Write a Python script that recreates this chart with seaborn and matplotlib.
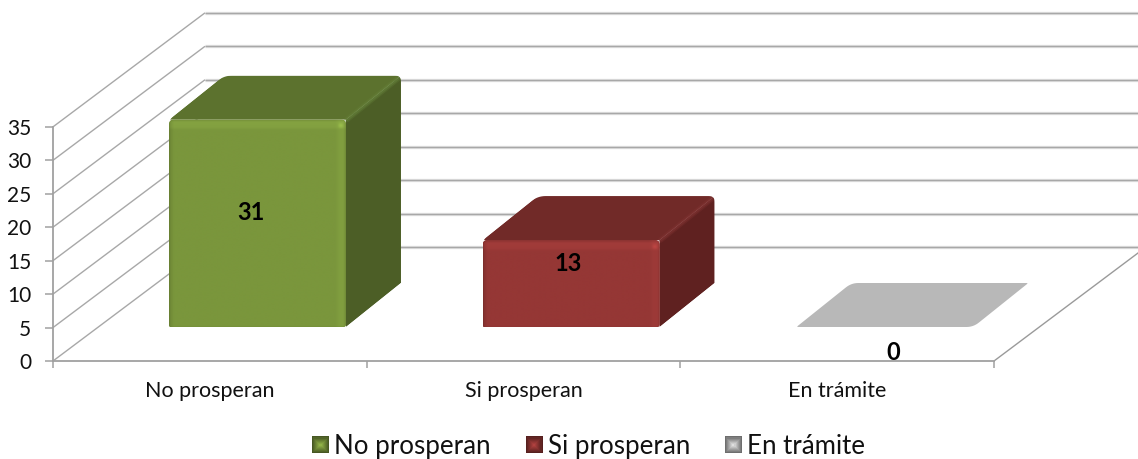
import numpy as np
import pandas as pd
import matplotlib
matplotlib.use("Agg")
import matplotlib.pyplot as plt
from matplotlib.collections import LineCollection
from matplotlib.colors import to_rgb
from matplotlib.legend_handler import HandlerBase
from matplotlib.patches import Patch, Polygon
import seaborn as sns

# Case outcomes
categories = ["No prosperan", "Si prosperan", "En trámite"]
values = [31, 13, 0]
y_ticks = [0, 5, 10, 15, 20, 25, 30, 35]

front_colors = ["#7A963C", "#953735", "#BDBDBD"]
top_colors = ["#5C722E", "#712A28", "#B8B8B8"]
side_colors = ["#4C5E26", "#5F2120", "#A6A6A6"]
ridge_colors = ["#66823A", "#823433", "#B8B8B8"]

# Plot scale in pixels
PX_CAT = 313.67
PX_UNIT = 6.69
X0_PX, Y0_PX = 53.0, 361.0
W, H = 1138, 459

sns.set_theme(style="white")
plt.rcParams["font.family"] = ["Lato", "DejaVu Sans"]

fig = plt.figure(figsize=(W / 100, H / 100), dpi=100)
ax = fig.add_axes([0, 0, 1, 1])


def px_dx(d):
    return d / PX_CAT


def px_dy(d):
    return d / PX_UNIT


# Oblique projection depth of the walls and of the bars
WALL_DX, WALL_DY = px_dx(152), px_dy(114)
BAR_SHIFT_X, BAR_SHIFT_Y = px_dx(47.7), px_dy(34)
BAR_DX, BAR_DY = px_dx(55), px_dy(44)

frame = pd.DataFrame({"estado": categories, "casos": values})
sns.barplot(
    data=frame, x="estado", y="casos", hue="estado", hue_order=categories,
    palette=front_colors, width=0.564, legend=False, ax=ax, saturation=1,
    linewidth=0, estimator="sum", errorbar=None,
)
ax.set_xlabel("")
ax.set_ylabel("")
ax.set_xlim(-0.5 - X0_PX / PX_CAT, -0.5 + (W - X0_PX) / PX_CAT)
ax.set_ylim((Y0_PX - H) / PX_UNIT, Y0_PX / PX_UNIT)

# Wall gridlines
top = y_ticks[-1]
xl, xr = -0.5, 2.5
back_l = xl + WALL_DX
back_r = xr + WALL_DX
left_wall = [[(xl, v), (back_l, v + WALL_DY)] for v in y_ticks]
back_wall = [[(back_l, v + WALL_DY), (back_r, v + WALL_DY)] for v in y_ticks]
grid = "#A8A8A8"
ax.add_collection(LineCollection(back_wall, colors="#E2E2E2", linewidths=2.4, zorder=1))
ax.add_collection(LineCollection(back_wall, colors=grid, linewidths=1.0, zorder=1.1))
ax.add_collection(LineCollection(left_wall, colors=grid, linewidths=1.0, zorder=1.1))
ax.add_collection(LineCollection([[(xr, 0), (back_r, WALL_DY)]], colors="#9A9A9A",
                                 linewidths=1.0, zorder=1.1))


def rounded(points, radius):
    """Round a polygon's corners; radius per corner is given in pixels."""
    pts = np.array([(x * PX_CAT, y * PX_UNIT) for x, y in points])
    out = []
    n = len(pts)
    for i in range(n):
        p, a, b = pts[i], pts[i - 1], pts[(i + 1) % n]
        r = radius[i]
        if r <= 0:
            out.append(p)
            continue
        u = (a - p) / np.linalg.norm(a - p)
        v = (b - p) / np.linalg.norm(b - p)
        for t in np.linspace(0, 1, 9):
            out.append((1 - t) ** 2 * (p + u * r) + 2 * t * (1 - t) * p + t ** 2 * (p + v * r))
    out = np.array(out)
    return out / [PX_CAT, PX_UNIT]


def bevel_image(wpx, hpx, rgb):
    """Shaded front face: dark rims, a lighter inner band and a corner glint."""
    ss = 2
    nx, ny = int(wpx * ss), int(hpx * ss)
    x = (np.arange(nx) + 0.5) / ss
    y = (np.arange(ny) + 0.5) / ss
    fx = np.ones(nx)
    fx *= np.interp(x, [0, 1.5, 5], [0.8, 0.92, 1.0])
    fx *= np.interp(x, [wpx - 11, wpx - 7, wpx - 3, wpx - 1, wpx], [1.0, 1.05, 1.05, 0.95, 0.84])
    fy = np.ones(ny)
    fy *= np.interp(y, [0, 1.5, 3, 8, 11], [0.92, 1.0, 1.08, 1.07, 1.0])
    fy *= np.interp(y, [hpx - 1.5, hpx], [1.0, 0.92])
    shade = np.outer(fy, fx)
    d = np.hypot(x[None, :] - (wpx - 5.5), y[:, None] - 6.5)
    shade = shade + 0.16 * np.clip(1 - d / 3.5, 0, 1)
    return np.clip(shade[..., None] * np.array(rgb), 0, 1)


bars = [p for p in ax.patches]
for i, (bar, value) in enumerate(zip(bars, values)):
    x0 = bar.get_x() + BAR_SHIFT_X
    width = bar.get_width()
    x1 = x0 + width
    y0 = BAR_SHIFT_Y
    y1 = y0 + value
    bar.set_x(x0)
    bar.set_y(y0)
    bar.set_zorder(3)

    top_face = [(x0, y1), (x1, y1), (x1 + BAR_DX, y1 + BAR_DY), (x0 + BAR_DX, y1 + BAR_DY)]
    if value == 0:
        # an empty bar leaves only a flat slab on the floor
        ax.add_patch(Polygon(rounded(top_face, [2, 7, 2, 7]), closed=True, fc=top_colors[i],
                             ec="none", zorder=2))
        continue

    # the top and side faces are trimmed to one rounded silhouette
    silhouette = Polygon(
        rounded([(x0, y0), (x1, y0), (x1 + BAR_DX, y0 + BAR_DY), (x1 + BAR_DX, y1 + BAR_DY),
                 (x0 + BAR_DX, y1 + BAR_DY), (x0, y1)], [0, 0, 0, 6, 8, 5]),
        closed=True, transform=ax.transData, fc="none", ec="none")
    ax.add_patch(silhouette)
    top_patch = Polygon(top_face, closed=True, fc=top_colors[i], ec="none", zorder=2)
    ax.add_patch(top_patch)
    top_patch.set_clip_path(silhouette)
    side = [(x1, y0), (x1 + BAR_DX, y0 + BAR_DY), (x1 + BAR_DX, y1 + BAR_DY), (x1, y1)]
    side_patch = Polygon(side, closed=True, fc=side_colors[i], ec="none", zorder=2.1)
    ax.add_patch(side_patch)
    side_patch.set_clip_path(silhouette)

    # soft ridge where the top meets the side
    ridge = [(x1 + px_dx(1), y1), (x1 + BAR_DX - px_dx(3), y1 + BAR_DY - px_dy(3))]
    for lw, alpha in [(4.0, 0.3), (2.2, 0.5)]:
        line, = ax.plot(*zip(*ridge), color=ridge_colors[i], lw=lw, alpha=alpha,
                        solid_capstyle="round", zorder=2.2)
        line.set_clip_path(silhouette)

    outline = Polygon(rounded([(x0, y0), (x1, y0), (x1, y1), (x0, y1)], [2, 3, 5, 5]),
                      closed=True, transform=ax.transData, fc="none", ec="none")
    ax.add_patch(outline)
    bar.set_clip_path(outline)
    wpx, hpx = width * PX_CAT, value * PX_UNIT
    img = ax.imshow(bevel_image(wpx, hpx, to_rgb(front_colors[i])),
                    extent=(x0, x1, y0, y1), origin="upper", aspect="auto",
                    interpolation="bilinear", zorder=3.1)
    img.set_clip_path(outline)

ax.set_xlim(-0.5 - X0_PX / PX_CAT, -0.5 + (W - X0_PX) / PX_CAT)
ax.set_ylim((Y0_PX - H) / PX_UNIT, Y0_PX / PX_UNIT)

# Value labels, nudged from each bar's front-face centre (pixels)
label_nudge = [(-6.5, 11), (-3.5, 20), (8.5, -25)]
for bar, value, (nx, ny) in zip(bars, values, label_nudge):
    ax.text(bar.get_x() + bar.get_width() / 2 + px_dx(nx),
            bar.get_y() + value / 2 + px_dy(ny),
            f"{value}", ha="center", va="center", fontsize=17, fontweight="bold",
            color="black", zorder=6)

# Axes
axis_color = "#A0A0A0"
for name in ("top", "right"):
    ax.spines[name].set_visible(False)
ax.spines["left"].set_position(("data", xl))
ax.spines["left"].set_bounds(0, top)
ax.spines["bottom"].set_position(("data", 0))
ax.spines["bottom"].set_bounds(xl, xr)
for name in ("left", "bottom"):
    ax.spines[name].set_color(axis_color)
    ax.spines[name].set_linewidth(1.3)
    ax.spines[name].set_zorder(1.5)

ax.set_yticks(y_ticks)
ax.set_xticks(range(len(categories)))
ax.set_xticklabels(categories)
ax.set_xticks(np.arange(xl, xr + 0.5), minor=True)
ax.tick_params(axis="y", which="major", left=True, length=5.8, width=1.1, color=axis_color,
               pad=10, labelsize=15, labelcolor="#111111")
ax.tick_params(axis="x", which="major", bottom=False, length=0, pad=14.5, labelsize=15.5,
               labelcolor="#111111")
ax.tick_params(axis="x", which="minor", bottom=True, length=5, width=1.1, color=axis_color)
ax.grid(False)
ax.patch.set_alpha(0)


class BevelSquare(HandlerBase):
    """Small legend key shaded from dark rims to a light centre."""

    def create_artists(self, legend, orig_handle, xdescent, ydescent, width, height,
                       fontsize, trans):
        rgb = np.array(to_rgb(orig_handle.get_facecolor()))
        s = width
        x0 = -xdescent
        y0 = (height - s) / 2 - ydescent
        cx, cy = x0 + s / 2, y0 + s / 2
        artists = []
        steps = 8
        for k in range(steps):
            half = s / 2 * (1 - k / steps)
            shade = 0.58 + 0.6 * k / (steps - 1)
            artists.append(Polygon(
                [(cx - half, cy - half), (cx + half, cy - half),
                 (cx + half, cy + half), (cx - half, cy + half)],
                closed=True, fc=np.clip(rgb * shade, 0, 1), ec="none", transform=trans))
        return artists


handles = [Patch(facecolor=c, label=n) for c, n in zip(front_colors, categories)]
handler = BevelSquare()
ax.legend(handles=handles, loc="center", bbox_to_anchor=(588.5 / W, 1 - 446.5 / H), ncol=3, frameon=False,
          fontsize=18.6, labelcolor="#111111", handlelength=0.66, handleheight=0.66,
          handletextpad=0.2, columnspacing=1.35,
          handler_map={h: handler for h in handles})

fig.savefig("out.png", dpi=100, facecolor="white")
